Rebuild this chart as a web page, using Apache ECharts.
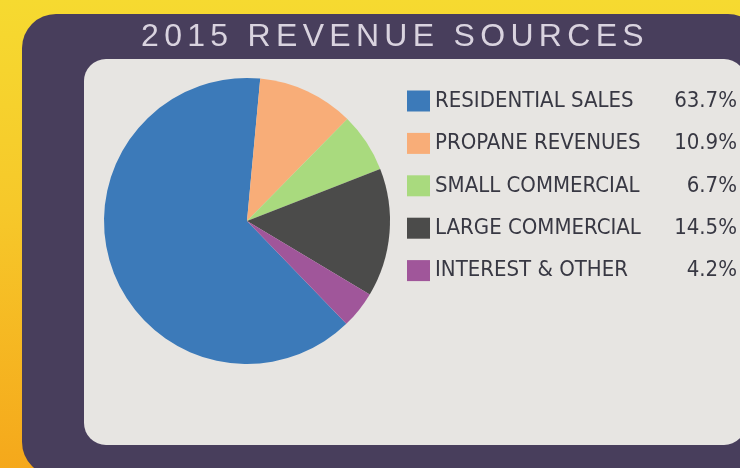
<!DOCTYPE html>
<html>
<head>
<meta charset="utf-8">
<script src="https://cdn.jsdelivr.net/npm/echarts@6/dist/echarts.min.js"></script>
<style>html,body{margin:0;padding:0;background:#f5c428;}#chart{width:740px;height:468px;}</style>
</head>
<body>
<div id="chart"></div>
<script>
const titleText = '2015 REVENUE SOURCES';
const categories = ['RESIDENTIAL SALES', 'PROPANE REVENUES', 'SMALL COMMERCIAL', 'LARGE COMMERCIAL', 'INTEREST & OTHER'];
const shares = [63.7, 10.9, 6.7, 14.5, 4.2];
const shareLabels = ['63.7%', '10.9%', '6.7%', '14.5%', '4.2%'];
const colors = ['#3c7ab9', '#f8ad78', '#a9da7e', '#4b4b4a', '#a0569a'];

// widen the title's letter spacing (canvas letterSpacing), text stays one real string
const origFill = CanvasRenderingContext2D.prototype.fillText;
CanvasRenderingContext2D.prototype.fillText = function (t, x, y, m) {
  if (t === titleText && 'letterSpacing' in this) {
    const prev = this.letterSpacing;
    this.letterSpacing = '5.3px';
    const r = m === undefined ? origFill.call(this, t, x, y) : origFill.call(this, t, x, y, m);
    this.letterSpacing = prev;
    return r;
  }
  return m === undefined ? origFill.call(this, t, x, y) : origFill.call(this, t, x, y, m);
};

const chart = echarts.init(document.getElementById('chart'), null, { renderer: 'canvas' });
const pctByName = {};
categories.forEach((c, i) => { pctByName[c] = shareLabels[i]; });
const legendFont = '"Liberation Sans Narrow", "Arial Narrow", "DejaVu Sans Condensed", sans-serif';

const option = {
  animation: false,
  graphic: [
    { type: 'rect', z: -30, shape: { x: 0, y: 0, width: 740, height: 468 },
      style: { fill: { type: 'linear', x: 0, y: 0, x2: 0, y2: 1,
        colorStops: [{ offset: 0, color: '#f6da30' }, { offset: 0.45, color: '#f6c82a' }, { offset: 1, color: '#f5a81b' }] } } },
    { type: 'rect', z: -20, shape: { x: 22, y: 14, width: 740, height: 462, r: 34 }, style: { fill: '#483e5c' } },
    { type: 'rect', z: -10, shape: { x: 84, y: 59, width: 662, height: 386, r: 22 }, style: { fill: '#e7e5e2' } },
    { type: 'text', z: 10, x: 395, y: 37,
      style: { text: titleText, fill: '#d9d3df', font: '32px "Liberation Sans", Arial, sans-serif',
        textAlign: 'center', textVerticalAlign: 'middle' } }
  ],
  legend: {
    orient: 'vertical',
    left: 407,
    top: 90,
    padding: 0,
    icon: 'rect',
    itemWidth: 23,
    itemHeight: 21,
    itemGap: 20.4,
    data: categories,
    formatter: function (name) { return '{n|' + name + '}{p|' + pctByName[name] + '}'; },
    textStyle: {
      rich: {
        n: { width: 232, fontSize: 22, lineHeight: 21, color: '#383843', fontFamily: legendFont },
        p: { width: 70, align: 'right', fontSize: 22, lineHeight: 21, color: '#383843', fontFamily: legendFont }
      }
    }
  },
  series: [{
    type: 'pie',
    center: [247, 221],
    radius: 143,
    startAngle: 314,
    clockwise: true,
    label: { show: false },
    labelLine: { show: false },
    emphasis: { disabled: true },
    itemStyle: { borderWidth: 0 },
    data: categories.map((c, i) => ({ name: c, value: shares[i], itemStyle: { color: colors[i] } }))
  }]
};
chart.setOption(option);
</script>
</body>
</html>
